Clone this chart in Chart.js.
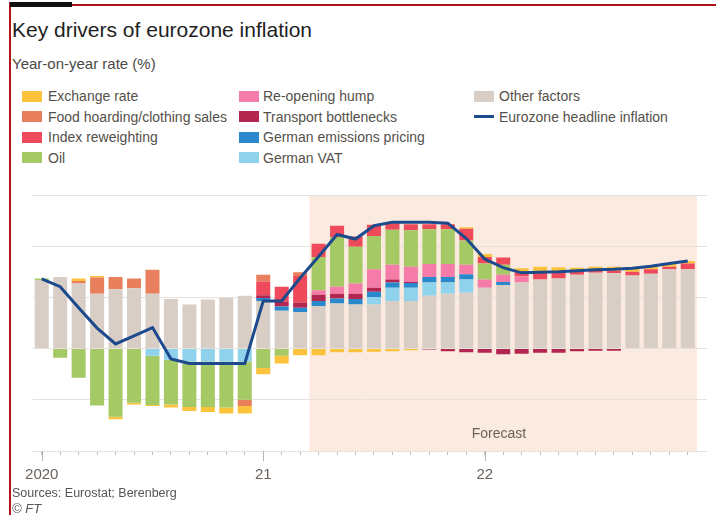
<!DOCTYPE html>
<html>
<head>
<meta charset="utf-8">
<title>Key drivers of eurozone inflation</title>
<script src="https://cdn.jsdelivr.net/npm/chart.js"></script>
<style>
html, body { margin: 0; padding: 0; width: 716px; height: 515px; overflow: hidden; background: #fff; }
body { font-family: "Liberation Sans", Arial, sans-serif; }
#wrap { position: relative; width: 716px; height: 515px; overflow: hidden; }
.abs { position: absolute; white-space: nowrap; }
#topbar { left: 10px; top: 2px; width: 62px; height: 5px; background: #111; }
#topline { left: 10px; top: 4px; width: 706px; height: 2px; background: #a8151b; }
#leftline { left: 9px; top: 2px; width: 2px; height: 513px; background: #b0161c; }
#title { left: 12px; top: 18px; font-size: 21px; line-height: 24px; color: #1e1e1e; }
#subtitle { left: 12px; top: 55px; font-size: 15px; line-height: 18px; color: #4d4845; }
.lg-text { font-size: 14px; line-height: 18px; height: 18px; color: #555049; }
.lg-box { width: 20px; height: 11px; }
.lg-line { width: 20px; height: 3px; }
#chart { position: absolute; left: 0; top: 180px; }
#forecast { left: 449px; top: 424px; width: 100px; text-align: center; font-size: 14px; line-height: 18px; color: #6b625b; }
#source { left: 12px; top: 485px; font-size: 12.5px; line-height: 16px; color: #555; }
#ft { left: 12px; top: 501px; font-size: 13px; line-height: 16px; color: #555; font-style: italic; }
</style>
</head>
<body>
<div id="wrap">
  <div id="leftline" class="abs"></div>
  <div id="topline" class="abs"></div>
  <div id="topbar" class="abs"></div>
  <div id="title" class="abs">Key drivers of eurozone inflation</div>
  <div id="subtitle" class="abs">Year-on-year rate (%)</div>
  <div id="legend"></div>
  <canvas id="chart" width="740" height="310"></canvas>
  <div id="forecast" class="abs">Forecast</div>
  <div id="source" class="abs">Sources: Eurostat; Berenberg</div>
  <div id="ft" class="abs">© FT</div>
</div>
<script>
// months Jan 2020 - Dec 2022
var months = [
  'Jan 2020','Feb 2020','Mar 2020','Apr 2020','May 2020','Jun 2020','Jul 2020','Aug 2020','Sep 2020','Oct 2020','Nov 2020','Dec 2020',
  'Jan 2021','Feb 2021','Mar 2021','Apr 2021','May 2021','Jun 2021','Jul 2021','Aug 2021','Sep 2021','Oct 2021','Nov 2021','Dec 2021',
  'Jan 2022','Feb 2022','Mar 2022','Apr 2022','May 2022','Jun 2022','Jul 2022','Aug 2022','Sep 2022','Oct 2022','Nov 2022','Dec 2022'
];
var tickLabels = [
  '2020','','','','','','','','','','','',
  '21','','','','','','','','','','','',
  '22','','','','','','','','','','',''
];
var forecastFrom = 'Apr 2021';

// contributions, percentage points
var other     = [1.33,1.40,1.27,1.07,1.16,1.18,1.07,0.97,0.86,0.96,0.99,1.03, 0.93,0.74,0.71,0.83,0.88,0.86,0.86,0.93,0.93,1.03,1.07,1.09, 1.19,1.24,1.29,1.35,1.37,1.44,1.48,1.47,1.43,1.46,1.55,1.55];
var germanVat = [0,0,0,0,0,0,-0.14,-0.22,-0.25,-0.25,-0.25,-0.25, 0,0,0,0,0,0,0.15,0.26,0.26,0.26,0.22,0.26, 0,0,0,0,0,0,0,0,0,0,0,0];
var emissions = [0,0,0,0,0,0,0,0,0,0,0,0, 0.06,0.08,0.09,0.10,0.10,0.11,0.10,0.10,0.09,0.11,0.11,0.10, 0,0.06,0,0,0,0,0,0,0,0,0,0];
var transport = [0,0,0,0,0,0,0,0,0,0,0,0, 0.05,0.10,0.10,0.12,0.09,0.10,0.08,0.06,0.02,-0.02,-0.05,-0.07, -0.08,-0.11,-0.10,-0.08,-0.08,-0.05,-0.04,-0.04,0,0,0,0];
var reopening = [0,0,0,0,0,0,0,0,0,0,0,0, 0,0,0,0.09,0.14,0.20,0.36,0.29,0.30,0.25,0.25,0.19, 0.16,0.14,0.12,0,0,0,0,0,0,0,0,0];
var oil       = [0.04,-0.18,-0.57,-1.11,-1.33,-1.06,-0.96,-0.87,-0.89,-0.89,-0.90,-0.75, -0.38,-0.14,0,0.65,0.97,0.72,0.65,0.68,0.71,0.68,0.68,0.47, 0.31,0.20,0,0,0,0,0,0,0,0,0,0];
var reweight  = [0,0,0,0,0,0,0,0,0,0,0,0, 0.27,0.29,0.52,0.26,0.22,0.20,0.22,0.13,0.12,0.10,0.10,0.23, 0.13,0.14,0.10,0.13,0.12,0.07,0.05,0.05,0.07,0.09,0.05,0.11];
var food      = [0,0,0.05,0.32,0.24,0.19,0.47,0,0,0,0,-0.12, 0.13,0,0.07,0,0,0,0,0,0,0,0,0, 0,0,0,0,0,0,0,0,0,0,0,0];
var exchange  = [0,0,0.05,0.03,-0.05,-0.03,-0.02,-0.06,-0.08,-0.10,-0.12,-0.15, -0.12,-0.15,-0.13,-0.13,-0.07,-0.07,-0.06,-0.05,-0.03,0,0,0.03, 0.06,0,0.06,0.12,0.10,0.07,0.07,0.08,0.07,0.05,0.05,0.05];
var headline  = [1.36,1.21,0.80,0.40,0.09,0.25,0.41,-0.20,-0.29,-0.29,-0.29,-0.29, 0.93,0.93,1.38,1.80,2.23,2.14,2.40,2.47,2.47,2.47,2.45,2.15, 1.75,1.58,1.48,1.49,1.50,1.52,1.54,1.55,1.57,1.61,1.66,1.71];

var FONT = '"Liberation Sans", Arial, sans-serif';
var AXIS_GREY = '#6b625b';

// stacking order, bottom up
var series = [
  { label: 'Other factors', data: other, color: '#d9cec5' },
  { label: 'German VAT', data: germanVat, color: '#8fd2ec' },
  { label: 'German emissions pricing', data: emissions, color: '#2a89cc' },
  { label: 'Transport bottlenecks', data: transport, color: '#b3264f' },
  { label: 'Re-opening hump', data: reopening, color: '#f57ca8' },
  { label: 'Oil', data: oil, color: '#a5c965' },
  { label: 'Index reweighting', data: reweight, color: '#ee4a5b' },
  { label: 'Food hoarding/clothing sales', data: food, color: '#e8805d' },
  { label: 'Exchange rate', data: exchange, color: '#fbc33c' }
];
var lineColor = '#1d4a8c';

// legend, three columns like the original
function colorOf(name) {
  for (var i = 0; i < series.length; i++) if (series[i].label === name) return series[i].color;
}
var legendCols = [
  { x: 22, tx: 48, items: ['Exchange rate', 'Food hoarding/clothing sales', 'Index reweighting', 'Oil'] },
  { x: 239, tx: 263, items: ['Re-opening hump', 'Transport bottlenecks', 'German emissions pricing', 'German VAT'] },
  { x: 474, tx: 499, items: ['Other factors', 'Eurozone headline inflation'] }
];
var legendRows = [96, 116.5, 137, 157.5];
var lg = document.getElementById('legend');
legendCols.forEach(function (col) {
  col.items.forEach(function (name, r) {
    var y = legendRows[r];
    var sw = document.createElement('div');
    if (name === 'Eurozone headline inflation') {
      sw.className = 'abs lg-line';
      sw.style.background = lineColor;
      sw.style.top = (y - 1.5) + 'px';
    } else {
      sw.className = 'abs lg-box';
      sw.style.background = colorOf(name);
      sw.style.top = (y - 5.5) + 'px';
    }
    sw.style.left = col.x + 'px';
    lg.appendChild(sw);
    var t = document.createElement('div');
    t.className = 'abs lg-text';
    t.textContent = name;
    t.style.left = col.tx + 'px';
    t.style.top = (y - 9) + 'px';
    lg.appendChild(t);
  });
});

// shaded forecast period behind everything
var forecastShade = {
  id: 'forecastShade',
  beforeDraw: function (chart) {
    var x = chart.scales.x, area = chart.chartArea, ctx = chart.ctx;
    var k = months.indexOf(forecastFrom);
    var start = (x.getPixelForValue(k - 1) + x.getPixelForValue(k)) / 2;
    ctx.save();
    ctx.fillStyle = '#faeadf';
    ctx.fillRect(start, area.top, area.right - start, area.bottom - area.top);
    ctx.restore();
  }
};

// longer tick under each January
var yearTicks = {
  id: 'yearTicks',
  afterDraw: function (chart) {
    var x = chart.scales.x, ctx = chart.ctx, b = chart.chartArea.bottom;
    ctx.save();
    ctx.strokeStyle = '#b9b1a9';
    ctx.lineWidth = 1;
    tickLabels.forEach(function (lab, i) {
      if (!lab) return;
      var px = Math.round(x.getPixelForTick(i)) + 0.5;
      ctx.beginPath();
      ctx.moveTo(px, b);
      ctx.lineTo(px, b + 10);
      ctx.stroke();
    });
    ctx.restore();
  }
};

var datasets = series.map(function (s) {
  return {
    type: 'bar',
    label: s.label,
    data: s.data,
    backgroundColor: s.color,
    borderWidth: 0,
    barPercentage: 0.76,
    categoryPercentage: 1.0,
    order: 1
  };
});
datasets.push({
  type: 'line',
  label: 'Eurozone headline inflation',
  data: headline,
  borderColor: lineColor,
  borderWidth: 3,
  pointRadius: 0,
  tension: 0,
  fill: false,
  stack: 'line',
  order: 0
});

window.onload = function () {
  var ctx = document.getElementById('chart').getContext('2d');
  window.myChart = new Chart(ctx, {
    type: 'bar',
    data: { labels: months, datasets: datasets },
    plugins: [forecastShade, yearTicks],
    options: {
      responsive: false,
      animation: false,
      layout: { padding: { left: 32.5, top: 15, right: 0, bottom: 0 } },
      plugins: { legend: { display: false }, tooltip: { enabled: false } },
      scales: {
        x: {
          stacked: true,
          offset: true,
          grid: { display: true, drawOnChartArea: false, drawTicks: true, tickLength: 4, offset: false, color: '#c4bcb4' },
          border: { display: false },
          ticks: {
            autoSkip: false, maxRotation: 0, padding: 11, color: AXIS_GREY,
            font: { family: FONT, size: 15 },
            callback: function (v, i) { return tickLabels[i]; }
          },
          afterFit: function (scale) { scale.height = 39; }
        },
        y: {
          stacked: true,
          position: 'right',
          min: -2, max: 3,
          grid: { color: '#e6e1dc', tickLength: 10, drawTicks: true },
          border: { display: false },
          ticks: { stepSize: 1, padding: 3, crossAlign: 'far', color: AXIS_GREY, font: { family: FONT, size: 15 } },
          afterFit: function (scale) { scale.width = 43; }
        }
      }
    }
  });
};
</script>
</body>
</html>
